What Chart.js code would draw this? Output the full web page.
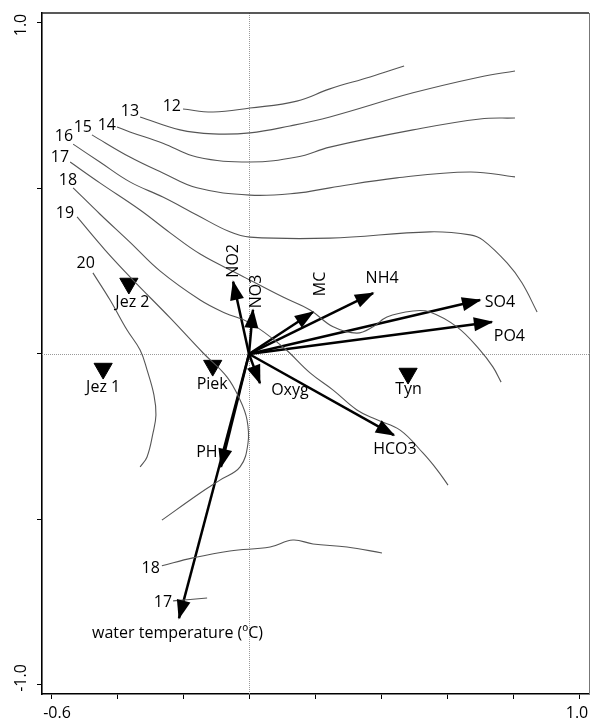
<!DOCTYPE html>
<html>
<head>
<meta charset="utf-8">
<script src="https://cdn.jsdelivr.net/npm/chart.js@4/dist/chart.umd.min.js"></script>
<style>
  html, body { margin: 0; padding: 0; background: #fff; }
  canvas { display: block; }
</style>
</head>
<body>
<canvas id="biplot" width="591" height="722"></canvas>
<script>
// ---- Environmental variables: arrow end points on ordination axes 1 and 2 ----
const variableNames = ['NO2', 'NO3', 'MC', 'NH4', 'SO4', 'PO4', 'Oxyg', 'HCO3', 'PH', 'water temperature (ºC)'];
const variableX = [-0.048, 0.012, 0.194, 0.376, 0.700, 0.736, 0.033, 0.439, -0.085, -0.212];
const variableY = [0.218, 0.133, 0.127, 0.184, 0.163, 0.097, -0.088, -0.245, -0.341, -0.798];

// ---- Sampling sites ----
const siteNames = ['Jez 2', 'Jez 1', 'Piek', 'Tyn'];
const siteX = [-0.364, -0.442, -0.110, 0.482];
const siteY = [0.213, -0.044, -0.035, -0.059];

// ---- Water temperature isolines (ºC), each a list of [axis1, axis2] points ----
const iso12 = [[-0.200,0.740],[-0.109,0.731],[0.003,0.743],[0.145,0.764],[0.245,0.801],[0.367,0.837],[0.470,0.870]];
const iso13 = [[-0.330,0.716],[-0.209,0.677],[-0.109,0.665],[0.003,0.668],[0.124,0.689],[0.245,0.716],[0.497,0.789],[0.700,0.837],[0.806,0.855]];
const iso14 = [[-0.400,0.686],[-0.361,0.671],[-0.261,0.637],[-0.158,0.595],[0.003,0.580],[0.145,0.595],[0.245,0.625],[0.497,0.677],[0.700,0.710],[0.806,0.713]];
const iso15 = [[-0.476,0.662],[-0.361,0.595],[-0.261,0.547],[-0.158,0.502],[0.003,0.480],[0.145,0.486],[0.245,0.502],[0.448,0.532],[0.670,0.550],[0.806,0.535]];
const iso16 = [[-0.533,0.634],[-0.452,0.580],[-0.361,0.520],[-0.261,0.474],[-0.158,0.420],[-0.058,0.369],[0.003,0.353],[0.245,0.350],[0.548,0.369],[0.670,0.360],[0.709,0.344],[0.782,0.275],[0.827,0.215],[0.873,0.127]];
const iso17 = [[-0.542,0.580],[-0.452,0.517],[-0.330,0.435],[-0.239,0.366],[-0.148,0.302],[-0.027,0.239],[0.103,0.172],[0.185,0.133],[0.255,0.082],[0.327,0.063],[0.376,0.082],[0.418,0.112],[0.497,0.130],[0.548,0.127],[0.630,0.082],[0.700,0.012],[0.739,-0.039],[0.764,-0.085]];
const iso18 = [[-0.533,0.502],[-0.452,0.423],[-0.361,0.338],[-0.270,0.251],[-0.148,0.163],[-0.073,0.124],[0.003,0.094],[0.103,0.021],[0.185,-0.057],[0.255,-0.109],[0.327,-0.169],[0.388,-0.199],[0.458,-0.230],[0.527,-0.299],[0.570,-0.350],[0.603,-0.396]];
const iso19 = [[-0.521,0.414],[-0.436,0.314],[-0.352,0.224],[-0.239,0.109],[-0.139,0.003],[-0.067,-0.069],[-0.027,-0.139],[-0.006,-0.199],[-0.003,-0.269],[-0.027,-0.341],[-0.088,-0.381],[-0.148,-0.420],[-0.264,-0.502]];
const iso20 = [[-0.473,0.245],[-0.421,0.163],[-0.370,0.073],[-0.330,0.012],[-0.309,-0.048],[-0.288,-0.124],[-0.282,-0.184],[-0.291,-0.239],[-0.309,-0.311],[-0.330,-0.341]];
const iso18low = [[-0.264,-0.640],[-0.170,-0.616],[-0.058,-0.595],[0.064,-0.583],[0.133,-0.562],[0.194,-0.574],[0.297,-0.583],[0.403,-0.601]];
const iso17low = [[-0.230,-0.746],[-0.127,-0.737]];

const isolines = [iso12, iso13, iso14, iso15, iso16, iso17, iso18, iso19, iso20, iso18low, iso17low];
const isolineLevels = ['12', '13', '14', '15', '16', '17', '18', '19', '20', '18', '17'];

// ---- Axis ticks ----
const xTickValues = [-0.6, -0.4, -0.2, 0, 0.2, 0.4, 0.6, 0.8, 1.0];
const yTickValues = [-1.0, -0.5, 0, 0.5, 1.0];
const xTickLabels = { '-0.6': '-0.6', '1': '1.0' };
const yTickLabels = { '-1': '-1.0', '1': '1.0' };

// ---- Label placement (pixel offsets from the anchor point) ----
const variableLabelStyle = [
  { dx: 0, dy: -21, vertical: true },
  { dx: 3.5, dy: -18.5, vertical: true },
  { dx: 7, dy: -28, vertical: true },
  { dx: 9, dy: -15 },
  { dx: 20, dy: 2 },
  { dx: 17.5, dy: 15 },
  { dx: 30, dy: 7 },
  { dx: 1, dy: 14 },
  { dx: -14, dy: -14 },
  { dx: -1.5, dy: 15 }
];
const siteLabelStyle = [{ dx: 3.5, dy: 19 }, { dx: 0, dy: 19 }, { dx: -0.5, dy: 19 }, { dx: 0.5, dy: 16 }];
const isolineLabelStyle = [
  { dx: -2, dy: -3 }, { dx: -1, dy: -5.5 }, { dx: -1, dy: -1.5 }, { dx: 0, dy: -7.5 },
  { dx: 0, dy: -7.5 }, { dx: -1, dy: -4.5 }, { dx: 4, dy: -7 }, { dx: -3, dy: -3.5 },
  { dx: 2, dy: -9 }, { dx: -2, dy: 3 }, { dx: -1, dy: 1.5 }
];

const FONT = '16px "Open Sans", "Noto Sans", sans-serif';
const TEXT = '#000';

// ---- Datasets ----
const datasets = [];
isolines.forEach((pts, i) => {
  datasets.push({
    label: 'iso ' + isolineLevels[i],
    kind: 'isoline',
    data: pts.map(p => ({ x: p[0], y: p[1] })),
    showLine: true,
    borderColor: '#555',
    borderWidth: 1.1,
    pointRadius: 0,
    tension: 0.4,
    fill: false
  });
});
variableNames.forEach((name, i) => {
  datasets.push({
    label: name,
    kind: 'arrow',
    data: [{ x: 0, y: 0 }, { x: variableX[i], y: variableY[i] }],
    showLine: true,
    borderColor: '#000',
    borderWidth: 2.5,
    borderCapStyle: 'butt',
    pointRadius: 0,
    tension: 0
  });
});
datasets.push({
  label: 'sites',
  kind: 'sites',
  data: siteX.map((x, i) => ({ x, y: siteY[i] })),
  showLine: false,
  pointStyle: 'triangle',
  rotation: 180,
  pointRadius: 10.5,
  backgroundColor: '#000',
  borderColor: '#000',
  borderWidth: 1
});

// ---- Drawing helpers: zero lines, frame, arrowheads and text ----
function drawText(ctx, txt, x, y, vertical, align) {
  ctx.save();
  ctx.translate(x, y);
  if (vertical) ctx.rotate(-Math.PI / 2);
  ctx.textAlign = align || 'center';
  ctx.textBaseline = 'middle';
  ctx.fillText(txt, 0, 0);
  ctx.restore();
}

const biplotDecor = {
  id: 'biplotDecor',
  beforeDatasetsDraw(chart) {
    const { ctx, chartArea: a, scales: { x, y } } = chart;
    ctx.save();
    ctx.strokeStyle = '#999';
    ctx.lineWidth = 1;
    ctx.setLineDash([1, 1]);
    const x0 = Math.round(x.getPixelForValue(0)) + 0.5;
    const y0 = Math.round(y.getPixelForValue(0)) + 0.5;
    ctx.beginPath();
    ctx.moveTo(x0, a.top); ctx.lineTo(x0, a.bottom);
    ctx.moveTo(a.left, y0); ctx.lineTo(a.right, y0);
    ctx.stroke();
    ctx.setLineDash([]);
    ctx.strokeStyle = '#222';
    ctx.lineWidth = 1.5;
    ctx.beginPath();
    ctx.moveTo(a.left, a.top); ctx.lineTo(a.right, a.top);
    ctx.stroke();
    ctx.strokeStyle = '#777';
    ctx.lineWidth = 1;
    ctx.beginPath();
    ctx.moveTo(a.right + 0.5, a.top); ctx.lineTo(a.right + 0.5, a.bottom);
    ctx.stroke();
    ctx.restore();
  },
  afterDatasetsDraw(chart) {
    const { ctx, scales: { x, y } } = chart;
    ctx.save();
    ctx.fillStyle = '#000';
    // arrowheads
    chart.data.datasets.forEach((ds, i) => {
      if (ds.kind !== 'arrow') return;
      const meta = chart.getDatasetMeta(i);
      const p0 = meta.data[0], p1 = meta.data[1];
      const ang = Math.atan2(p1.y - p0.y, p1.x - p0.x);
      const L = 18, W = 7;
      const bx = p1.x - L * Math.cos(ang), by = p1.y - L * Math.sin(ang);
      ctx.beginPath();
      ctx.moveTo(p1.x + 1.5 * Math.cos(ang), p1.y + 1.5 * Math.sin(ang));
      ctx.lineTo(bx + W * Math.sin(ang), by - W * Math.cos(ang));
      ctx.lineTo(bx - W * Math.sin(ang), by + W * Math.cos(ang));
      ctx.closePath();
      ctx.fill();
    });
    ctx.font = FONT;
    ctx.fillStyle = TEXT;
    // variable names
    variableNames.forEach((name, i) => {
      const s = variableLabelStyle[i];
      drawText(ctx, name, x.getPixelForValue(variableX[i]) + s.dx, y.getPixelForValue(variableY[i]) + s.dy, s.vertical);
    });
    // site names
    siteNames.forEach((name, i) => {
      const s = siteLabelStyle[i];
      drawText(ctx, name, x.getPixelForValue(siteX[i]) + s.dx, y.getPixelForValue(siteY[i]) + s.dy, false);
    });
    // isoline levels at the start of each line
    isolines.forEach((pts, i) => {
      const s = isolineLabelStyle[i];
      drawText(ctx, isolineLevels[i], x.getPixelForValue(pts[0][0]) + s.dx, y.getPixelForValue(pts[0][1]) + s.dy, false, 'right');
    });
    // tick labels
    xTickValues.forEach(v => {
      const t = xTickLabels[String(v)];
      if (!t) return;
      drawText(ctx, t, x.getPixelForValue(v) + (v < 0 ? 6 : -2), 713, false);
    });
    yTickValues.forEach(v => {
      const t = yTickLabels[String(v)];
      if (!t) return;
      drawText(ctx, t, 21, y.getPixelForValue(v) + (v < 0 ? -7 : 2), true);
    });
    ctx.restore();
  }
};

function axisOptions(extra) {
  return Object.assign({
    type: 'linear',
    grid: { display: true, drawOnChartArea: false, drawTicks: true, tickLength: 5, color: '#000', lineWidth: 1 },
    border: { display: true, color: '#000', width: 1.6 },
    ticks: { display: false, autoSkip: false }
  }, extra);
}

new Chart(document.getElementById('biplot'), {
  type: 'scatter',
  data: { datasets },
  options: {
    responsive: false,
    animation: false,
    events: [],
    layout: { autoPadding: false, padding: { top: 13, right: 2, left: 0, bottom: 0 } },
    plugins: { legend: { display: false }, tooltip: { enabled: false } },
    scales: {
      x: axisOptions({
        position: 'bottom',
        min: -0.6273, max: 1.0303,
        afterBuildTicks: s => { s.ticks = xTickValues.map(v => ({ value: v })); },
        afterFit: s => { s.height = 28; s.paddingLeft = 0; s.paddingRight = 0; }
      }),
      y: axisOptions({
        position: 'left',
        min: -1.0272, max: 1.0302,
        afterBuildTicks: s => { s.ticks = yTickValues.map(v => ({ value: v })); },
        afterFit: s => { s.width = 42; s.paddingTop = 0; s.paddingBottom = 0; }
      })
    }
  },
  plugins: [biplotDecor]
});
</script>
</body>
</html>
